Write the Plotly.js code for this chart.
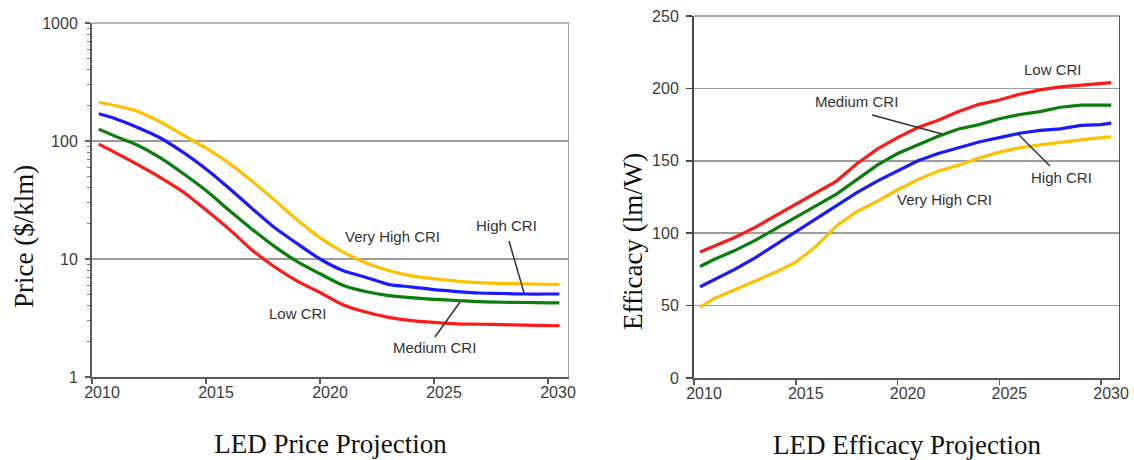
<!DOCTYPE html>
<html><head><meta charset="utf-8">
<script src="https://cdn.plot.ly/plotly-3.0.1.min.js"></script>
<style>html,body{margin:0;padding:0;background:#fff}#chart{width:1134px;height:460px}</style>
</head><body><div id="chart"></div>
<script>
const years = [2010.3,2011,2012,2013,2014,2015,2016,2017,2018,2019,2020,2021,2022,2023,2024,2025,2026,2027,2028,2029,2030,2030.5];

const priceLow      = [94,80,63,49,37,26,18,12,8.6,6.5,5.2,4.1,3.55,3.2,3.0,2.9,2.82,2.8,2.78,2.75,2.72,2.72];
const priceMedium   = [126,110,92,72,53,38,26,18,12.8,9.5,7.5,6.0,5.3,4.9,4.7,4.55,4.45,4.35,4.3,4.28,4.25,4.25];
const priceHigh     = [170,155,130,106,80,58,40,27,18.5,13.5,10.0,8.0,7.0,6.1,5.8,5.5,5.3,5.15,5.1,5.05,5.05,5.05];
const priceVeryHigh = [213,200,178,145,112,87,65,46,31.6,21.4,15.1,11.5,9.3,8.0,7.2,6.8,6.5,6.3,6.2,6.15,6.1,6.1];

const effLow      = [87,91,97,104,112,120,128,136,148,158,166,173,178,184,189,192,196,199,201,202,203.5,204];
const effMedium   = [77,82,88,95,103,111,119,127,137,147,155,161,167,172,175,179,182,184,187,188.5,188.5,188.5];
const effHigh     = [63,68,75,83,92,101,110,119,128,136,143,150,155,159,163,166,169,171,172,174.5,175,176];
const effVeryHigh = [49,55,61,67,73,80,91,105,115,122,130,137,143,147,152,156,159,161,163,164.5,166,166.5];

const xTickVals = [2010,2015,2020,2025,2030];
const xTickText = ['2010','2015','2020','2025','2030'];
const priceTickVals = [1,10,100,1000];
const priceTickText = ['1','10','100','1000'];
const priceMinorVals = [2,3,4,5,6,7,8,9,20,30,40,50,60,70,80,90,200,300,400,500,600,700,800,900];
const effTickVals = [0,50,100,150,200,250];

const seriesNames = ['Low CRI','Medium CRI','High CRI','Very High CRI'];
const colors = ['#ff1a1a','#0a7d0a','#1a1aff','#ffc000'];

const priceSeries = [priceLow, priceMedium, priceHigh, priceVeryHigh];
const effSeries = [effLow, effMedium, effHigh, effVeryHigh];

const traces = [];
priceSeries.forEach((s,i)=>traces.push({x:years,y:s,xaxis:'x',yaxis:'y',mode:'lines',name:seriesNames[i],
  line:{color:colors[i],width:3.2,shape:'spline',smoothing:0.8},showlegend:false,hoverinfo:'skip'}));
effSeries.forEach((s,i)=>traces.push({x:years,y:s,xaxis:'x2',yaxis:'y2',mode:'lines',name:seriesNames[i],
  line:{color:colors[i],width:3.2},showlegend:false,hoverinfo:'skip'}));
// label-only axes (tick labels are offset slightly right of tick marks in the original)
traces.push({x:[],y:[],xaxis:'x3',yaxis:'y',showlegend:false,hoverinfo:'skip'});
traces.push({x:[],y:[],xaxis:'x4',yaxis:'y2',showlegend:false,hoverinfo:'skip'});

const tickFont = {family:'Liberation Sans, Arial, sans-serif', size:16, color:'#3c3c3c'};
const titleFont = {family:'Liberation Serif, Times New Roman, serif', size:27, color:'#111'};
const annFont = {family:'Liberation Sans, Arial, sans-serif', size:15, color:'#333'};

const L = {x0:92,x1:569,top:23,bot:377};
const R = {x0:694,x1:1120,top:16,bot:378};
const W = 1134, H = 460;
const lRange = [2010, 2030.92];
const rRange = [2010, 2030.93];
const lShift = 10/22.8, rShift = 10/20.35;

const baseX = {showgrid:false, zeroline:false, showline:true, linecolor:'#5a5a5a', linewidth:2,
  ticks:'outside', ticklen:5, tickwidth:1.5, tickcolor:'#5a5a5a', tickvals:xTickVals, showticklabels:false, mirror:false};

const layout = {
  width:W, height:H, margin:{l:0,r:0,t:0,b:0}, paper_bgcolor:'#fff', plot_bgcolor:'#fff', showlegend:false,
  xaxis: Object.assign({}, baseX, {domain:[L.x0/W, L.x1/W], range:lRange, anchor:'y',
    title:{text:'LED Price Projection', font:titleFont, standoff:51}}),
  xaxis3: {overlaying:'x', anchor:'y', range:[lRange[0]-lShift, lRange[1]-lShift], showgrid:false, zeroline:false, showline:false,
    ticks:'', tickvals:xTickVals, ticktext:xTickText, tickfont:tickFont, side:'bottom', ticklabelstandoff:4},
  yaxis: {domain:[(H-L.bot)/H, (H-L.top)/H], type:'log', range:[0,3], anchor:'x',
    tickvals:priceTickVals, ticktext:priceTickText, tickfont:tickFont,
    showgrid:true, gridcolor:'#9c9c9c', gridwidth:1.6, zeroline:false,
    showline:true, linecolor:'#5a5a5a', linewidth:2, mirror:false,
    ticks:'outside', ticklen:5, tickwidth:1.5, tickcolor:'#5a5a5a', ticklabelstandoff:4,
    minor:{tickvals:priceMinorVals, ticks:'outside', ticklen:3, tickwidth:1, tickcolor:'#777', showgrid:false}},
  xaxis2: Object.assign({}, baseX, {domain:[R.x0/W, R.x1/W], range:rRange, anchor:'y2',
    title:{text:'LED Efficacy Projection', font:titleFont, standoff:51}}),
  xaxis4: {overlaying:'x2', anchor:'y2', range:[rRange[0]-rShift, rRange[1]-rShift], showgrid:false, zeroline:false, showline:false,
    ticks:'', tickvals:xTickVals, ticktext:xTickText, tickfont:tickFont, side:'bottom', ticklabelstandoff:4},
  yaxis2: {domain:[(H-R.bot)/H, (H-R.top)/H], range:[0,250], anchor:'x2',
    tickvals:effTickVals, tickfont:tickFont,
    showgrid:true, gridcolor:'#9c9c9c', gridwidth:1.6, zeroline:false,
    showline:true, linecolor:'#4a4a4a', linewidth:2, mirror:false,
    ticks:'outside', ticklen:6, tickwidth:1.5, tickcolor:'#4a4a4a', ticklabelstandoff:4},
  shapes: [
    // top and right borders
    {type:'line', xref:'x domain', yref:'y domain', x0:0, x1:1, y0:1, y1:1, line:{color:'#9c9c9c', width:1.6}},
    {type:'line', xref:'x2 domain', yref:'y2 domain', x0:0, x1:1, y0:1, y1:1, line:{color:'#8c8c8c', width:1.6}},
    {type:'line', xref:'x', yref:'y domain', x0:lRange[1], x1:lRange[1], y0:0, y1:1, line:{color:'#8a8a8a', width:1.6}},
    {type:'line', xref:'x2', yref:'y2 domain', x0:rRange[1], x1:rRange[1], y0:0, y1:1, line:{color:'#555', width:2}},
    // leader lines
    {type:'line', xref:'x', yref:'y', x0:2028.29, y0:14.2, x1:2028.95, y1:5.15, line:{color:'#333', width:1.5}},
    {type:'line', xref:'x', yref:'y', x0:2025.04, y0:2.18, x1:2026.14, y1:4.32, line:{color:'#333', width:1.5}},
    {type:'line', xref:'x2', yref:'y2', x0:2018.75, y0:181.6, x1:2022.19, y1:168.5, line:{color:'#333', width:1.5}},
    {type:'line', xref:'x2', yref:'y2', x0:2025.87, y0:169.2, x1:2027.49, y1:146.4, line:{color:'#333', width:1.5}}
  ],
  annotations: [
    // y-axis titles (placed lower than the domain centre, as in the original)
    {xref:'paper', yref:'paper', x:24/W, y:(H-237)/H, text:'Price ($/klm)', textangle:-90, showarrow:false, font:titleFont, xanchor:'center', yanchor:'middle'},
    {xref:'paper', yref:'paper', x:633/W, y:(H-242)/H, text:'Efficacy (lm/W)', textangle:-90, showarrow:false, font:titleFont, xanchor:'center', yanchor:'middle'},
    // series labels
    {xref:'x', yref:'y', x:2023.16, y:Math.log10(15.4), text:'Very High CRI', showarrow:false, font:annFont},
    {xref:'x', yref:'y', x:2028.16, y:1.28, text:'High CRI', showarrow:false, font:annFont},
    {xref:'x', yref:'y', x:2025.0, y:0.246, text:'Medium CRI', showarrow:false, font:annFont},
    {xref:'x', yref:'y', x:2019.04, y:0.542, text:'Low CRI', showarrow:false, font:annFont},
    {xref:'x2', yref:'y2', x:2027.64, y:213.4, text:'Low CRI', showarrow:false, font:annFont},
    {xref:'x2', yref:'y2', x:2017.96, y:191.3, text:'Medium CRI', showarrow:false, font:annFont},
    {xref:'x2', yref:'y2', x:2028.08, y:138.8, text:'High CRI', showarrow:false, font:annFont},
    {xref:'x2', yref:'y2', x:2022.33, y:123.6, text:'Very High CRI', showarrow:false, font:annFont}
  ]
};

Plotly.newPlot('chart', traces, layout, {staticPlot:true, displayModeBar:false});
</script>
</body></html>
